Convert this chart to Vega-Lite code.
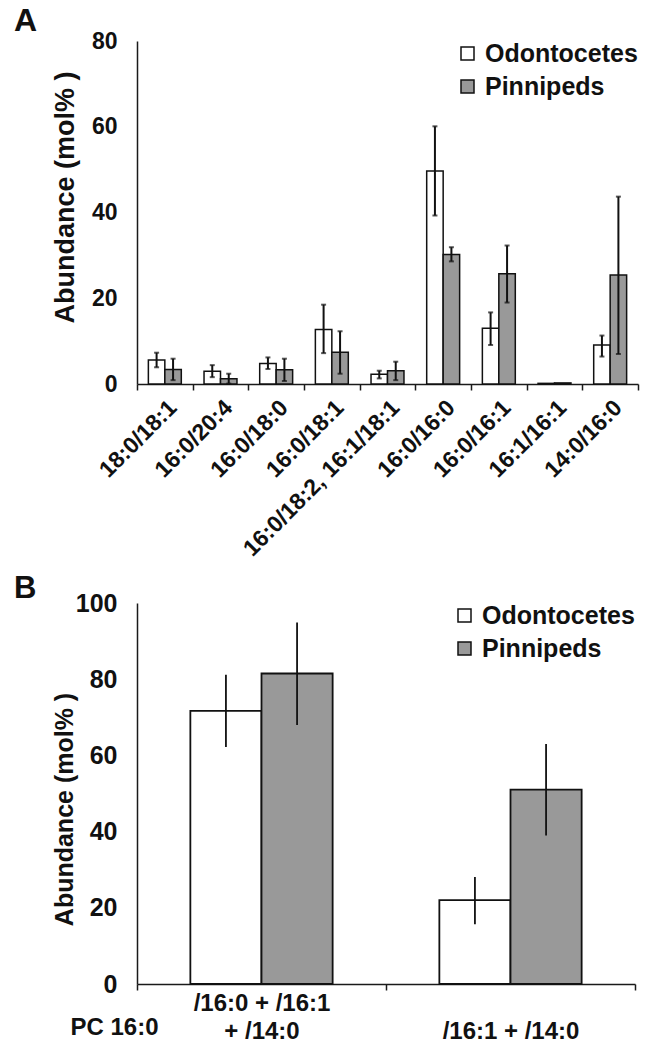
{
  "$schema": "https://vega.github.io/schema/vega-lite/v6.json",
  "padding": {"left": 14, "top": 5, "right": 5, "bottom": 5},
  "background": "white",
  "spacing": 12,
  "config": {
    "font": "Liberation Sans",
    "view": {"stroke": null},
    "axis": {
      "domainColor": "#1a1a1a", "domainWidth": 1.5,
      "tickColor": "#1a1a1a", "tickWidth": 1.5,
      "labelColor": "#111111", "titleColor": "#111111",
      "labelFont": "Liberation Sans", "titleFont": "Liberation Sans",
      "labelFontWeight": "bold", "titleFontWeight": "bold",
      "grid": false
    },
    "legend": {
      "orient": "top-right", "offset": 0, "padding": 0,
      "labelFont": "Liberation Sans", "labelFontSize": 25, "labelFontWeight": "bold", "labelColor": "#111111",
      "symbolType": "square", "symbolSize": 169, "symbolStrokeColor": "#111111", "symbolStrokeWidth": 1.5,
      "rowPadding": 7, "labelOffset": 5
    },
    "title": {"font": "Liberation Sans", "fontWeight": "bold", "color": "#111111", "anchor": "start", "frame": "group"}
  },
  "datasets": {
    "a": [
      {"cat": "18:0/18:1", "group": "Odontocetes", "val": 5.6, "lo": 3.9, "hi": 7.3},
      {"cat": "18:0/18:1", "group": "Pinnipeds", "val": 3.4, "lo": 0.9, "hi": 5.9},
      {"cat": "16:0/20:4", "group": "Odontocetes", "val": 3.0, "lo": 1.6, "hi": 4.4},
      {"cat": "16:0/20:4", "group": "Pinnipeds", "val": 1.2, "lo": 0.1, "hi": 2.4},
      {"cat": "16:0/18:0", "group": "Odontocetes", "val": 4.8, "lo": 3.5, "hi": 6.2},
      {"cat": "16:0/18:0", "group": "Pinnipeds", "val": 3.3, "lo": 0.7, "hi": 5.9},
      {"cat": "16:0/18:1", "group": "Odontocetes", "val": 12.7, "lo": 7.2, "hi": 18.5},
      {"cat": "16:0/18:1", "group": "Pinnipeds", "val": 7.4, "lo": 2.4, "hi": 12.3},
      {"cat": "16:0/18:2, 16:1/18:1", "group": "Odontocetes", "val": 2.3, "lo": 1.3, "hi": 3.1},
      {"cat": "16:0/18:2, 16:1/18:1", "group": "Pinnipeds", "val": 3.1, "lo": 0.9, "hi": 5.2},
      {"cat": "16:0/16:0", "group": "Odontocetes", "val": 49.7, "lo": 39.3, "hi": 60.1},
      {"cat": "16:0/16:0", "group": "Pinnipeds", "val": 30.2, "lo": 28.6, "hi": 31.9},
      {"cat": "16:0/16:1", "group": "Odontocetes", "val": 13.0, "lo": 9.1, "hi": 16.7},
      {"cat": "16:0/16:1", "group": "Pinnipeds", "val": 25.7, "lo": 19.0, "hi": 32.3},
      {"cat": "16:1/16:1", "group": "Odontocetes", "val": 0.15, "lo": null, "hi": null},
      {"cat": "16:1/16:1", "group": "Pinnipeds", "val": 0.25, "lo": null, "hi": null},
      {"cat": "14:0/16:0", "group": "Odontocetes", "val": 9.1, "lo": 6.4, "hi": 11.3},
      {"cat": "14:0/16:0", "group": "Pinnipeds", "val": 25.4, "lo": 7.0, "hi": 43.7}
    ],
    "b": [
      {"cat": "/16:0 + /16:1 + /14:0", "group": "Odontocetes", "val": 71.7, "lo": 62.2, "hi": 81.2},
      {"cat": "/16:0 + /16:1 + /14:0", "group": "Pinnipeds", "val": 81.5, "lo": 68.0, "hi": 94.9},
      {"cat": "/16:1 + /14:0", "group": "Odontocetes", "val": 22.0, "lo": 15.7, "hi": 28.1},
      {"cat": "/16:1 + /14:0", "group": "Pinnipeds", "val": 51.0, "lo": 39.0, "hi": 63.0}
    ]
  },
  "vconcat": [
    {
      "width": 501,
      "height": 343,
      "title": {"text": "A", "dx": -123, "fontSize": 32, "offset": -8},
      "data": {"name": "a"},
      "encoding": {
        "x": {
          "field": "cat", "type": "nominal", "sort": null,
          "scale": {"paddingInner": 0, "paddingOuter": 0},
          "axis": {"title": null, "labelAngle": -45, "labelFontSize": 23, "labelPadding": 6, "tickSize": 6, "tickBand": "extent", "labelLimit": 0}
        },
        "xOffset": {"field": "group", "type": "nominal", "sort": ["Odontocetes", "Pinnipeds"], "scale": {"paddingInner": 0, "paddingOuter": 0.69}}
      },
      "layer": [
        {
          "mark": {"type": "bar", "stroke": "#111111", "strokeWidth": 1.5},
          "encoding": {
            "y": {
              "field": "val", "type": "quantitative", "title": "Abundance (mol% )",
              "scale": {"domain": [0, 80], "nice": false},
              "axis": {"values": [0, 20, 40, 60, 80], "ticks": false, "labelPadding": 20, "labelFontSize": 23, "titleFontSize": 27, "titleAngle": -90, "titleX": -72, "titleY": 156, "titleAlign": "center", "titleBaseline": "middle"}
            },
            "fill": {
              "field": "group", "type": "nominal", "title": null,
              "scale": {"domain": ["Odontocetes", "Pinnipeds"], "range": ["#ffffff", "#999999"]}
            }
          }
        },
        {
          "mark": {"type": "rule", "strokeWidth": 2, "color": "#111111"},
          "encoding": {
            "y": {"field": "lo", "type": "quantitative", "title": "Abundance (mol% )"},
            "y2": {"field": "hi"}
          }
        },
        {
          "mark": {"type": "tick", "thickness": 2, "size": 5, "color": "#111111"},
          "encoding": {"y": {"field": "hi", "type": "quantitative", "title": "Abundance (mol% )"}}
        },
        {
          "mark": {"type": "tick", "thickness": 2, "size": 5, "color": "#111111"},
          "encoding": {"y": {"field": "lo", "type": "quantitative", "title": "Abundance (mol% )"}}
        }
      ]
    },
    {
      "width": 498,
      "height": 381,
      "title": {"text": "B", "dx": -123, "fontSize": 31, "offset": -14},
      "data": {"name": "b"},
      "encoding": {
        "x": {
          "field": "cat", "type": "nominal", "sort": null,
          "scale": {"paddingInner": 0, "paddingOuter": 0},
          "axis": {
            "title": "PC 16:0", "titleFontSize": 24, "titleX": -67, "titleY": 43, "titleAlign": "left", "titleBaseline": "middle",
            "labelAngle": 0, "labelFontSize": 24, "labelLineHeight": 28, "labelPadding": 1, "tickSize": 6, "tickBand": "extent", "labelLimit": 0,
            "labelExpr": "datum.value == '/16:0 + /16:1 + /14:0' ? ['/16:0 + /16:1', '+ /14:0'] : (datum.value == '/16:1 + /14:0' ? [' ', datum.value] : '')"
          }
        },
        "xOffset": {"field": "group", "type": "nominal", "sort": ["Odontocetes", "Pinnipeds"], "scale": {"paddingInner": 0, "paddingOuter": 0.75}}
      },
      "layer": [
        {
          "mark": {"type": "bar", "stroke": "#111111", "strokeWidth": 1.8},
          "encoding": {
            "y": {
              "field": "val", "type": "quantitative", "title": "Abundance (mol% )",
              "scale": {"domain": [0, 100], "nice": false},
              "axis": {"values": [0, 20, 40, 60, 80, 100], "ticks": false, "labelPadding": 20, "labelFontSize": 25, "titleFontSize": 25, "titleAngle": -90, "titleX": -73, "titleY": 206, "titleAlign": "center", "titleBaseline": "middle"}
            },
            "fill": {
              "field": "group", "type": "nominal", "title": null,
              "scale": {"domain": ["Odontocetes", "Pinnipeds"], "range": ["#ffffff", "#999999"]}
            }
          }
        },
        {
          "mark": {"type": "rule", "strokeWidth": 1.8, "color": "#111111"},
          "encoding": {
            "y": {"field": "lo", "type": "quantitative", "title": "Abundance (mol% )"},
            "y2": {"field": "hi"}
          }
        }
      ]
    }
  ],
  "resolve": {"scale": {"x": "independent", "xOffset": "independent", "y": "independent", "fill": "independent"}, "legend": {"fill": "independent"}}
}
